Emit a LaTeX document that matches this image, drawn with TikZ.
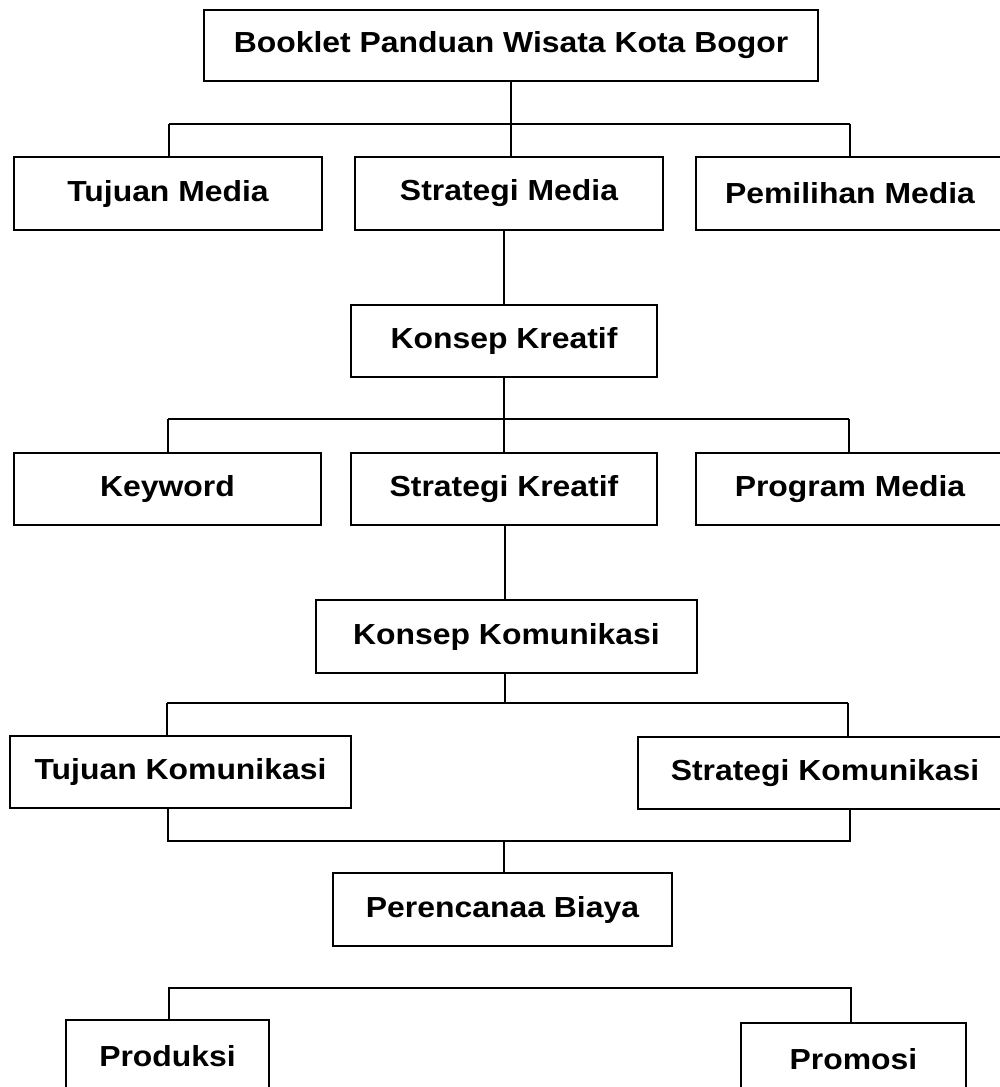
\documentclass[tikz,border=0pt]{standalone}
\usepackage{fontspec}
\setmainfont{Liberation Sans}[FakeStretch=1.1]
\begin{document}
\begin{tikzpicture}[x=1pt,y=-1pt,
  box/.style={draw=black, line width=1.7pt, rectangle, inner sep=0pt, fill=white,
    font=\bfseries\fontsize{29}{34}\selectfont},
  conn/.style={draw=black, line width=1.6pt}]
\useasboundingbox (0,0) rectangle (1000,1087);
% nodes
\node[box, minimum width=614, minimum height=71] (top) at (511,45.5) {Booklet Panduan Wisata Kota Bogor};
\node[box, minimum width=308, minimum height=73] (tm) at (168,193.5) {Tujuan Media};
\node[box, minimum width=308, minimum height=73] (sm) at (509,193.5) {Strategi Media};
\node[box, minimum width=308, minimum height=73] (pm) at (850,193.5) {Pemilihan Media};
\node[box, minimum width=306, minimum height=72] (kk) at (504,341) {Konsep Kreatif};
\node[box, minimum width=307, minimum height=72] (kw) at (167.5,489) {Keyword};
\node[box, minimum width=306, minimum height=72] (sk) at (504,489) {Strategi Kreatif};
\node[box, minimum width=308, minimum height=72] (prm) at (850,489) {Program Media};
\node[box, minimum width=381, minimum height=73] (kom) at (506.5,636.5) {Konsep Komunikasi};
\node[box, minimum width=341, minimum height=72] (tk) at (180.5,772) {Tujuan Komunikasi};
\node[box, minimum width=374, minimum height=72] (stk) at (825,773) {Strategi Komunikasi};
\node[box, minimum width=339, minimum height=73] (pb) at (502.5,909.5) {Perencanaa Biaya};
\node[box, minimum width=203, minimum height=72] (prod) at (167.5,1056) {Produksi};
\node[box, minimum width=225, minimum height=72] (prom) at (853.5,1059) {Promosi};
% junction coordinates
\coordinate (j1) at (511,124);
\coordinate (j1l) at (169,124);
\coordinate (j1r) at (850,124);
\coordinate (j2) at (504,419);
\coordinate (j2l) at (168,419);
\coordinate (j2r) at (849,419);
\coordinate (j3) at (505,703);
\coordinate (j3l) at (167,703);
\coordinate (j3r) at (848,703);
\coordinate (j4) at (504,841);
\coordinate (j4l) at (168,841);
\coordinate (j4r) at (850,841);
\coordinate (j5l) at (169,988);
\coordinate (j5r) at (851,988);
% connectors
\draw[conn] (top.south) -- (j1);
\draw[conn] (j1l) -- (j1r);
\draw[conn] (j1l) -- (j1l |- tm.north);
\draw[conn] (j1) -- (j1 |- sm.north);
\draw[conn] (j1r) -- (j1r |- pm.north);
\draw[conn] (kk.north -| 504,0) -- (504,0 |- sm.south);
\draw[conn] (kk.south -| j2) -- (j2);
\draw[conn] (j2l) -- (j2r);
\draw[conn] (j2l) -- (j2l |- kw.north);
\draw[conn] (j2) -- (j2 |- sk.north);
\draw[conn] (j2r) -- (j2r |- prm.north);
\draw[conn] (sk.south -| j3) -- (j3 |- kom.north);
\draw[conn] (kom.south -| j3) -- (j3);
\draw[conn] (j3l) -- (j3r);
\draw[conn] (j3l) -- (j3l |- tk.north);
\draw[conn] (j3r) -- (j3r |- stk.north);
\draw[conn] (j4l |- tk.south) -- (j4l) -- (j4r) -- (j4r |- stk.south);
\draw[conn] (j4) -- (j4 |- pb.north);
\draw[conn] (j5l |- prod.north) -- (j5l) -- (j5r) -- (j5r |- prom.north);
\end{tikzpicture}
\end{document}
